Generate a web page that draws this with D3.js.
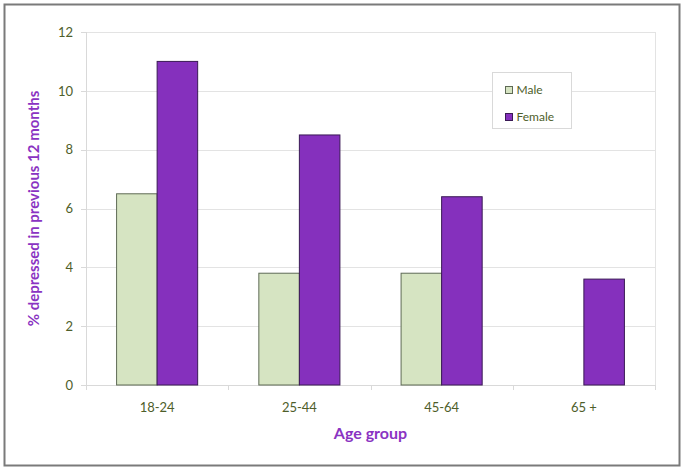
<!DOCTYPE html>
<html>
<head>
<meta charset="utf-8">
<script src="https://d3js.org/d3.v7.min.js"></script>
<style>
body { margin: 0; background: #fff; }
.axis text { font-family: Lato, "Open Sans", sans-serif; font-size: 13px; fill: #4e5e2a; }
.axis path, .axis line { stroke: #d9d9d9; shape-rendering: crispEdges; }
.grid line { stroke: #e3e3e3; shape-rendering: crispEdges; }
.grid path { display: none; }
</style>
</head>
<body>
<div id="container"></div>
<script>
// chart data
var groups = ["18-24", "25-44", "45-64", "65 +"];
var maleValues = [6.5, 3.8, 3.8, null];
var femaleValues = [11, 8.5, 6.4, 3.6];
var seriesNames = ["Male", "Female"];
var yTicks = [0, 2, 4, 6, 8, 10, 12];

var W = 685, H = 470;
var margin = {top: 32, right: 30, bottom: 85, left: 86},
    width = 655 - margin.left,
    height = 385 - margin.top;

var svg = d3.select("#container").append("svg")
    .attr("width", W).attr("height", H);

// outer frame
svg.append("rect")
    .attr("x", 4.5).attr("y", 4.5)
    .attr("width", 675).attr("height", 461)
    .attr("fill", "#fff").attr("stroke", "#7a7a7a").attr("stroke-width", 2);

var g = svg.append("g")
    .attr("transform", "translate(" + margin.left + "," + margin.top + ")");

var x0 = d3.scaleBand().domain(groups).range([0, width]).paddingInner(0.43).paddingOuter(0.215);
var x1 = d3.scaleBand().domain(seriesNames).range([0, x0.bandwidth()]);
var xEdge = d3.scaleBand().domain(groups).range([0, width]);
var y = d3.scaleLinear().domain([0, 12]).range([height, 0]);

// gridlines
g.append("g").attr("class", "grid")
    .call(d3.axisLeft(y).tickValues(yTicks).tickSize(-width).tickFormat(""));

// right plot edge
g.append("line")
    .attr("x1", width + 0.5).attr("x2", width + 0.5)
    .attr("y1", 0).attr("y2", height)
    .attr("stroke", "#e3e3e3");

// y axis
var yAxis = g.append("g").attr("class", "axis")
    .call(d3.axisLeft(y).tickValues(yTicks).tickSize(5).tickPadding(8));
yAxis.select(".domain").attr("d", "M0.5,0V" + height);

// x axis with ticks at category boundaries
var xAxis = g.append("g").attr("class", "axis")
    .attr("transform", "translate(0," + height + ")")
    .call(d3.axisBottom(x0).tickSize(0).tickPadding(18));
xAxis.select(".domain").attr("d", "M0," + 0.5 + "H" + width);
xAxis.selectAll(".edge")
    .data(groups.concat(["end"]))
    .enter().append("line")
    .attr("class", "edge")
    .attr("x1", function(d, i) { return i < groups.length ? xEdge(d) + 0.5 : width + 0.5; })
    .attr("x2", function(d, i) { return i < groups.length ? xEdge(d) + 0.5 : width + 0.5; })
    .attr("y1", 0).attr("y2", 5);

// bars
var rows = groups.map(function(grp, i) {
  return {group: grp, values: [
    {name: "Male", value: maleValues[i]},
    {name: "Female", value: femaleValues[i]}
  ]};
});
var fill = {Male: "#d6e4c2", Female: "#8530bd"};
var edge = {Male: "#5e6a55", Female: "#3a1a55"};

g.selectAll(".grp")
    .data(rows)
  .enter().append("g")
    .attr("transform", function(d) { return "translate(" + x0(d.group) + ",0)"; })
  .selectAll("rect")
    .data(function(d) { return d.values.filter(function(v) { return v.value != null; }); })
  .enter().append("rect")
    .attr("x", function(d) { return x1(d.name); })
    .attr("y", function(d) { return y(d.value); })
    .attr("width", x1.bandwidth())
    .attr("height", function(d) { return height - y(d.value); })
    .attr("fill", function(d) { return fill[d.name]; })
    .attr("stroke", function(d) { return edge[d.name]; })
    .attr("stroke-width", 1);

// axis titles
svg.append("text")
    .attr("transform", "translate(39," + (margin.top + height / 2) + ") rotate(-90)")
    .attr("text-anchor", "middle")
    .attr("font-family", "Lato, 'Open Sans', sans-serif")
    .attr("font-weight", "bold")
    .attr("font-size", "15px")
    .attr("fill", "#8a33c2")
    .text("% depressed in previous 12 months");

svg.append("text")
    .attr("x", margin.left + width / 2).attr("y", 439)
    .attr("text-anchor", "middle")
    .attr("font-family", "Lato, 'Open Sans', sans-serif")
    .attr("font-weight", "bold")
    .attr("font-size", "16px")
    .attr("fill", "#8a33c2")
    .text("Age group");

// legend
var legend = svg.append("g").attr("transform", "translate(492.5,72.5)");
legend.append("rect")
    .attr("width", 79).attr("height", 56)
    .attr("fill", "#fff").attr("stroke", "#d9d9d9");
var li = legend.selectAll(".li").data(seriesNames).enter().append("g")
    .attr("transform", function(d, i) { return "translate(13," + (14 + i * 27) + ")"; });
li.append("rect")
    .attr("width", 7).attr("height", 7)
    .attr("fill", function(d) { return fill[d]; })
    .attr("stroke", function(d) { return edge[d]; });
li.append("text")
    .attr("x", 11).attr("y", 7)
    .attr("font-family", "Lato, 'Open Sans', sans-serif")
    .attr("font-size", "12px")
    .attr("fill", "#4e5e2a")
    .text(function(d) { return d; });
</script>
</body>
</html>
